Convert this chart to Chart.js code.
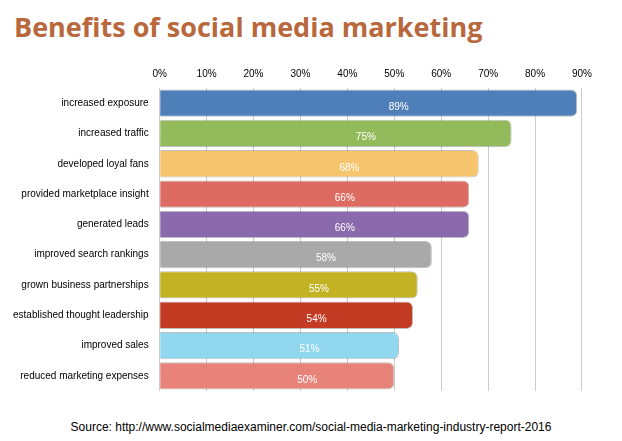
<!DOCTYPE html>
<html>
<head>
<meta charset="utf-8">
<script src="https://cdn.jsdelivr.net/npm/chart.js@4"></script>
<style>
  body { margin: 0; background: #fff; font-family: "Liberation Sans", Arial, sans-serif; }
  h1 { margin: 0; position: absolute; left: 14px; top: 8px; font-family: "Open Sans", sans-serif;
       font-size: 27px; font-weight: 700; color: #b8683c; }
  #wrap { position: absolute; left: 0; top: 60px; width: 600px; height: 340px; }
  #src { position: absolute; left: 0; width: 622px; top: 420px; text-align: center; font-size: 12px; color: #000; }
</style>
</head>
<body>
<h1>Benefits of social media marketing</h1>
<div id="wrap"><canvas id="chart"></canvas></div>
<div id="src">Source: http://www.socialmediaexaminer.com/social-media-marketing-industry-report-2016</div>
<script>
const categories = ['increased exposure', 'increased traffic', 'developed loyal fans',
  'provided marketplace insight', 'generated leads', 'improved search rankings',
  'grown business partnerships', 'established thought leadership', 'improved sales',
  'reduced marketing expenses'];
const values = [89, 75, 68, 66, 66, 58, 55, 54, 51, 50];
const colors = ['#4f7fb8', '#93bb5c', '#f7c56e', '#de6b62', '#8a6aac', '#a9a9a9',
  '#c2b224', '#c23b22', '#92d7f0', '#e88379'];

// value labels in the middle of each bar
const valueLabels = {
  id: 'valueLabels',
  afterDatasetsDraw(chart) {
    const ctx = chart.ctx;
    const meta = chart.getDatasetMeta(0);
    ctx.save();
    ctx.font = '10px "Liberation Sans", Arial';
    ctx.fillStyle = '#fff';
    ctx.textAlign = 'center';
    ctx.textBaseline = 'middle';
    meta.data.forEach((bar, i) => {
      ctx.fillText(values[i] + '%', (bar.base + bar.x) / 2 + 30, bar.y + 4);
    });
    ctx.restore();
  }
};

new Chart(document.getElementById('chart'), {
  type: 'bar',
  data: {
    labels: categories,
    datasets: [{
      data: values,
      backgroundColor: colors,
      borderColor: 'rgba(0,0,0,0.25)',
      borderWidth: 1,
      borderRadius: 6,
      barPercentage: 0.95,
      categoryPercentage: 0.95
    }]
  },
  options: {
    indexAxis: 'y',
    responsive: true,
    maintainAspectRatio: false,
    animation: false,
    layout: { padding: { left: 10, right: 10 } },
    plugins: { legend: { display: false }, tooltip: { enabled: false } },
    scales: {
      x: {
        position: 'top',
        min: 0, max: 90,
        ticks: { stepSize: 10, callback: v => v + '%', color: '#000', font: { size: 10 }, padding: 8 },
        grid: { color: '#ccc', drawTicks: false },
        border: { display: false }
      },
      y: {
        ticks: { color: '#000', font: { size: 10 } },
        grid: { display: false },
        border: { display: false }
      }
    }
  },
  plugins: [valueLabels]
});
</script>
</body>
</html>
